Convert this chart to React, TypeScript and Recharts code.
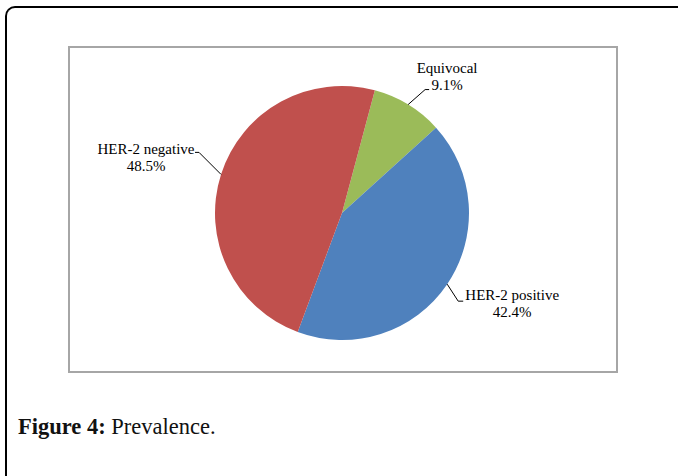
import React from 'react'
import { PieChart, Pie, Cell } from 'recharts'

// slice order follows the reference: clockwise from just right of 12 o'clock
const categories = ['Equivocal', 'HER-2 positive', 'HER-2 negative']
const shares = [9.1, 42.4, 48.5]
const shareLabels = ['9.1%', '42.4%', '48.5%']
const colors = ['#9BBB59', '#4F81BD', '#C0504D']

const data = categories.map((name, i) => ({ name, value: shares[i], pct: shareLabels[i] }))

// leader line / text placement relative to the slice edge point
const labelLayout = [
  { elbow: [17, -15], tail: 4, textDx: 39, textDy: -15 },
  { elbow: [11, 17], tail: 5, textDx: 65, textDy: 33 },
  { elbow: [-22, -22], tail: -4, textDx: -75, textDy: -3 },
]

const RADIAN = Math.PI / 180

function renderLabel(props: any) {
  const { cx, cy, midAngle, outerRadius, index } = props
  const ex = cx + outerRadius * Math.cos(-midAngle * RADIAN)
  const ey = cy + outerRadius * Math.sin(-midAngle * RADIAN)
  const l = labelLayout[index]
  const bx = ex + l.elbow[0]
  const by = ey + l.elbow[1]
  const tx = bx + l.tail
  const textX = ex + l.textDx
  const line2 = ey + l.textDy
  return (
    <g key={`lbl-${index}`}>
      <polyline
        points={`${ex},${ey} ${bx},${by} ${tx},${by}`}
        fill="none"
        stroke="#000"
        strokeWidth={1}
      />
      <text
        x={textX}
        y={line2 - 17}
        textAnchor="middle"
        fontFamily="'Liberation Serif', serif"
        fontSize={15}
        fill="#000"
      >
        {data[index].name}
      </text>
      <text
        x={textX}
        y={line2}
        textAnchor="middle"
        fontFamily="'Liberation Serif', serif"
        fontSize={15}
        fill="#000"
      >
        {data[index].pct}
      </text>
    </g>
  )
}

export default function App() {
  return (
    <div
      style={{
        position: 'absolute',
        left: 0,
        top: 0,
        width: 678,
        height: 476,
        overflow: 'hidden',
        background: '#fff',
      }}
    >
      <div
        style={{
          position: 'absolute',
          left: 5,
          top: 6,
          width: 700,
          height: 500,
          borderTop: '2px solid #000',
          borderLeft: '2px solid #000',
          borderTopLeftRadius: 10,
        }}
      />
      <div style={{ position: 'absolute', left: 68, top: 46 }}>
        <PieChart width={550} height={327} margin={{ top: 0, right: 0, bottom: 0, left: 0 }}>
          <Pie
            data={data}
            dataKey="value"
            nameKey="name"
            cx={274}
            cy={167}
            outerRadius={127}
            startAngle={75}
            endAngle={-285}
            stroke="none"
            label={renderLabel}
            labelLine={false}
            isAnimationActive={false}
          >
            {data.map((d, i) => (
              <Cell key={d.name} fill={colors[i]} />
            ))}
          </Pie>
        </PieChart>
      </div>
      <div
        style={{
          position: 'absolute',
          left: 68,
          top: 46,
          width: 550,
          height: 327,
          boxSizing: 'border-box',
          border: '2px solid #a6a6a6',
          pointerEvents: 'none',
        }}
      />
      <div
        style={{
          position: 'absolute',
          left: 18,
          top: 414,
          fontFamily: "'Liberation Serif', serif",
          fontSize: 22.5,
          color: '#111',
          whiteSpace: 'nowrap',
        }}
      >
        <b>Figure 4:</b> Prevalence.
      </div>
    </div>
  )
}
